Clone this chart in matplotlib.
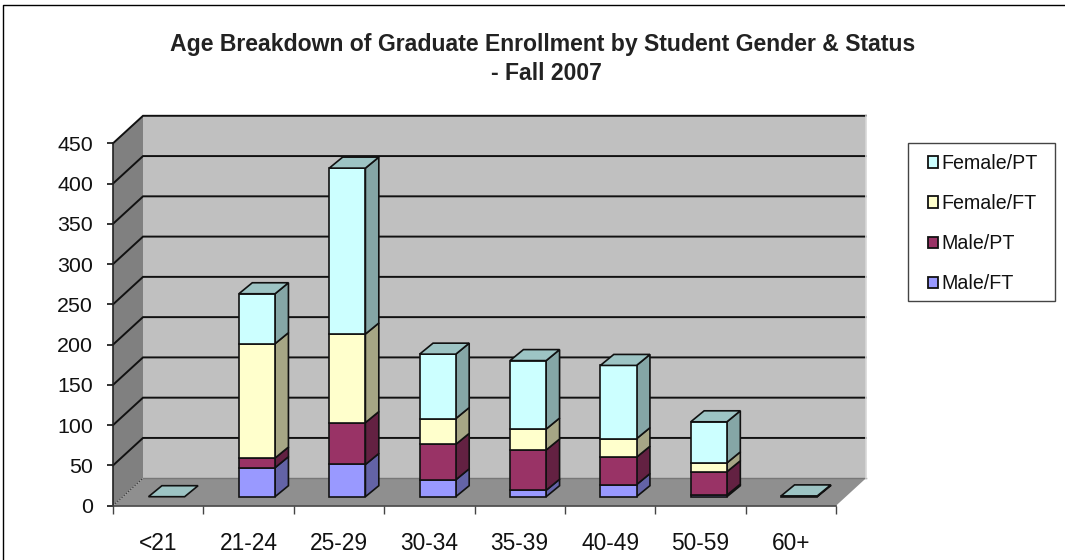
import matplotlib
matplotlib.use("Agg")
import matplotlib.pyplot as plt
import numpy as np
from matplotlib.lines import Line2D
from matplotlib.patches import Patch, Polygon, Rectangle
from matplotlib.colors import to_rgb

plt.rcParams['font.family'] = ['Liberation Sans', 'DejaVu Sans']

age_groups = ['<21', '21-24', '25-29', '30-34', '35-39', '40-49', '50-59', '60+']
male_ft = [0, 36, 40, 21, 8, 15, 2, 0]
male_pt = [0, 12, 52, 44, 50, 34, 29, 0]
female_ft = [0, 142, 110, 32, 26, 23, 11, 0]
female_pt = [0, 62, 206, 80, 85, 91, 51, 1]
y_ticks = [0, 50, 100, 150, 200, 250, 300, 350, 400, 450]

series_names = ['Male/FT', 'Male/PT', 'Female/FT', 'Female/PT']
series_values = [male_ft, male_pt, female_ft, female_pt]
series_colors = ['#9999FF', '#993366', '#FFFFCC', '#CCFFFF']

W, H = 1065, 560
fig = plt.figure(figsize=(W / 100, H / 100), dpi=100, facecolor='white')
ax = fig.add_axes([113 / W, 1 - 505.7 / H, 723 / W, 362.4 / H])
ax.set_xlim(0, len(age_groups))
ax.set_ylim(0, 450)
ax.patch.set_visible(False)

# pixel size of one data unit, used to turn the 3d offsets into data units
px_x = 723 / len(age_groups)
px_y = 362.4 / 450
depth_x = 30 / px_x
depth_y = 27.5 / px_y
bar_depth_x = 13.4 / px_x
bar_depth_y = 11 / px_y
bar_width = 0.4
bar_shift_x = 8.4 / px_x
bar_shift_y = 9 / px_y


def shade(color, factor):
    return tuple(c * factor for c in to_rgb(color))


def add_poly(points, **kwargs):
    ax.add_patch(Polygon(points, closed=True, clip_on=False, **kwargs))


n = len(age_groups)
# walls and floor
add_poly([(depth_x, depth_y), (n + depth_x, depth_y), (n + depth_x, 450 + depth_y), (depth_x, 450 + depth_y)],
         facecolor='#C0C0C0', edgecolor='none', zorder=1)
add_poly([(0, 0), (depth_x, depth_y), (depth_x, 450 + depth_y), (0, 450)],
         facecolor='#808080', edgecolor='none', zorder=1)
add_poly([(0, 0), (n, 0), (n + depth_x, depth_y), (depth_x, depth_y)],
         facecolor='#8F8F8F', edgecolor='none', zorder=1)

# gridlines run along the left wall then the back wall
for tick in y_ticks[1:]:
    ax.plot([0, depth_x, n + depth_x], [tick, tick + depth_y, tick + depth_y],
            color='#111111', lw=1.4, clip_on=False, zorder=2, solid_joinstyle='miter')
ax.plot([depth_x, n + depth_x], [depth_y, depth_y], color='#777777', lw=1, clip_on=False, zorder=2)
ax.plot([n + depth_x, n + depth_x], [depth_y, 450 + depth_y], color='#D8D8D8', lw=1.2, clip_on=False, zorder=2)
ax.plot([0, depth_x], [0, depth_y], color='#333333', lw=0.8, ls=':', clip_on=False, zorder=2)

# stacked bars, with side and top faces worked out from the values
x_pos = np.arange(n) + (1 - bar_width) / 2 + bar_shift_x
bottoms = np.zeros(n) + bar_shift_y
for name, values, color in zip(series_names, series_values, series_colors):
    values = np.array(values, dtype=float)
    for x, b, v in zip(x_pos, bottoms, values):
        if v == 0:
            continue
        add_poly([(x + bar_width, b), (x + bar_width + bar_depth_x, b + bar_depth_y),
                  (x + bar_width + bar_depth_x, b + v + bar_depth_y), (x + bar_width, b + v)],
                 facecolor=shade(color, 0.65), edgecolor='#111111', lw=1.2, zorder=3)
    keep = values > 0
    ax.bar(x_pos[keep], values[keep], width=bar_width, bottom=bottoms[keep], align='edge',
           color=color, edgecolor='#111111', lw=1.2, zorder=4, clip_on=False)
    bottoms = bottoms + values

top_color = shade(series_colors[3], 0.77)
for x, b in zip(x_pos, bottoms):
    add_poly([(x, b), (x + bar_width, b), (x + bar_width + bar_depth_x, b + bar_depth_y), (x + bar_depth_x, b + bar_depth_y)],
             facecolor=top_color, edgecolor='#111111', lw=1.2, zorder=5)

# axes
for side in ['top', 'right']:
    ax.spines[side].set_visible(False)
ax.spines['left'].set_color('#222222')
ax.spines['bottom'].set_color('#444444')
ax.spines['left'].set_linewidth(1.2)
ax.spines['bottom'].set_linewidth(1.2)
ax.spines['left'].set_zorder(6)
ax.spines['bottom'].set_zorder(6)

ax.set_yticks(y_ticks)
ax.tick_params(axis='y', length=4.3, width=1.2, color='#111111', pad=10, labelsize=15.4, labelcolor='#111111')
ax.set_xticks(np.arange(n + 1))
ax.set_xticklabels([])
ax.tick_params(axis='x', which='major', length=6, width=1, color='#444444')
ax.set_xticks(np.arange(n) + 0.5, minor=True)
ax.set_xticklabels(age_groups, minor=True)
ax.tick_params(axis='x', which='minor', length=0, pad=18.6, labelsize=16.4, labelcolor='#111111')

fig.text(543 / W, 1 - 44 / H, 'Age Breakdown of Graduate Enrollment by Student Gender & Status',
         ha='center', va='center', fontsize=16.6, fontweight='bold', color='#222222')
fig.text(546 / W, 1 - 74 / H, '- Fall 2007', ha='center', va='center', fontsize=16.6, fontweight='bold', color='#222222')

# legend lists the stack top first, its frame is drawn apart to get the reference's padding
fig.add_artist(Rectangle((908 / W, 1 - 301 / H), 147 / W, 158 / H, transform=fig.transFigure,
                         facecolor='white', edgecolor='#444444', lw=1.0))
handles = [Patch(facecolor=c, edgecolor='#111111', lw=1.3, label=name)
           for name, c in zip(series_names[::-1], series_colors[::-1])]
leg = fig.legend(handles=handles, loc='upper left', bbox_to_anchor=(928 / W, 1 - 154 / H), bbox_transform=fig.transFigure,
                 fontsize=14.1, frameon=False,
                 handlelength=0.52, handleheight=0.52, handletextpad=0.15, borderpad=0, labelspacing=1.08,
                 borderaxespad=0)
leg.set_zorder(10)
for t in leg.get_texts():
    t.set_color('#111111')

# outer chart border, top and left only
fig.add_artist(Line2D([3 / W, 3 / W, 1], [0, 1 - 5 / H, 1 - 5 / H], color='black', lw=1.0))

fig.savefig('out.png', dpi=100)
